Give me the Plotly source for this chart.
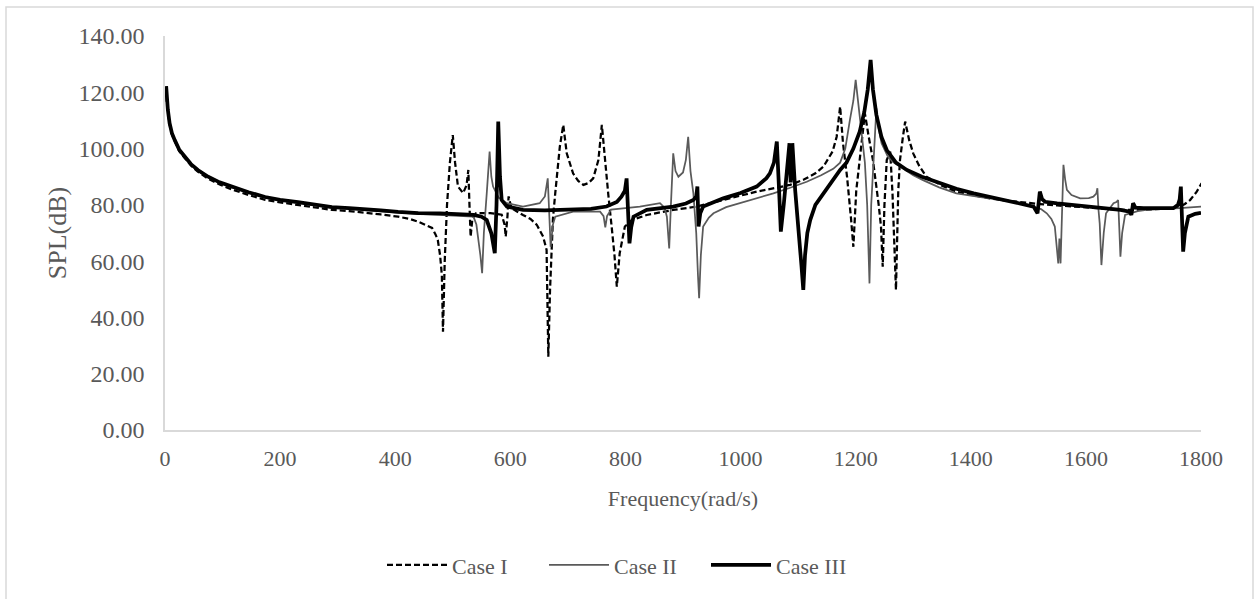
import plotly.graph_objects as go

# ---------------- data ----------------
freq_case1 = [2, 3, 5, 8, 12, 17, 25, 35, 45, 57, 75, 95, 116, 145, 174, 200, 232, 260, 290, 320,
              347, 375, 405, 425, 440, 455, 464, 470, 474, 478, 481, 483, 486, 490, 495, 500, 504, 509,
              518, 524, 527, 529, 531, 534, 540, 565, 585, 590, 592, 595, 597, 600, 602, 622, 635, 646,
              657, 663, 666, 669, 674, 678, 686, 692, 698, 709, 718, 727, 736, 744, 753, 759, 764, 770,
              776, 781, 785, 790, 799, 811, 837, 860, 883, 924, 970, 1000, 1028, 1060, 1086, 1110, 1130,
              1144, 1160, 1167, 1173, 1178, 1185, 1192, 1196, 1201, 1207, 1212, 1216, 1222, 1230, 1240,
              1244, 1247, 1250, 1254, 1260, 1264, 1267, 1270, 1274, 1277, 1282, 1286, 1293, 1300, 1310,
              1323, 1350, 1375, 1405, 1433, 1462, 1491, 1520, 1550, 1578, 1620, 1665, 1700, 1723, 1745,
              1763, 1772, 1781, 1792, 1801]
spl_case1 = [122.0, 116.5, 113.0, 108.5, 105.0, 102.5, 99.0, 96.5, 94.0, 91.8, 89.3, 87.2, 85.5, 83.5,
             81.8, 80.9, 80.0, 79.0, 78.2, 77.8, 77.3, 76.6, 75.8, 75.0, 74.0, 72.8, 71.8, 69.5, 67.5,
             62.0, 55.0, 34.9, 60.0, 80.0, 95.0, 104.8, 95.0, 86.5, 84.2, 87.0, 92.4, 80.0, 68.7, 75.0,
             77.0, 77.1, 76.5, 73.0, 68.7, 76.0, 83.0, 80.5, 78.8, 76.4, 75.0, 72.9, 68.7, 64.0, 26.0,
             50.0, 75.0, 84.1, 100.7, 108.4, 98.3, 91.2, 88.5, 87.1, 87.8, 89.4, 95.9, 108.4, 95.9, 84.1,
             72.3, 62.0, 50.9, 62.8, 72.3, 74.6, 76.4, 77.3, 78.2, 79.4, 81.7, 83.2, 84.7, 86.0, 87.1,
             89.0, 91.2, 93.6, 99.0, 104.2, 114.9, 101.9, 90.0, 75.0, 65.1, 85.0, 95.9, 105.0, 112.5,
             105.0, 95.9, 80.0, 72.3, 58.0, 80.0, 95.9, 98.9, 84.1, 70.0, 49.8, 85.0, 95.9, 104.0, 109.6,
             103.0, 98.3, 94.0, 90.0, 86.8, 84.7, 83.4, 82.3, 81.5, 80.8, 80.3, 79.8, 79.4, 78.8, 78.2,
             78.2, 78.4, 78.8, 79.4, 80.3, 81.7, 84.5, 87.7]

freq_case2 = [2, 3, 5, 8, 12, 17, 25, 35, 45, 57, 75, 95, 116, 145, 174, 200, 231, 260, 290, 320, 347,
              375, 405, 440, 478, 510, 536, 541, 544, 548, 551, 554, 559, 564, 567, 570, 580, 594, 622,
              640, 651, 660, 665, 668, 670, 674, 678, 709, 756, 762, 765, 768, 775, 800, 825, 860, 868,
              872, 876, 879, 883, 887, 892, 900, 905, 909, 913, 918, 923, 926, 928, 931, 935, 945, 953,
              975, 999, 1030, 1057, 1085, 1115, 1140, 1161, 1173, 1182, 1190, 1196, 1200, 1205, 1210,
              1216, 1220, 1224, 1227, 1231, 1236, 1240, 1245, 1255, 1265, 1277, 1300, 1317, 1345, 1375,
              1420, 1462, 1490, 1509, 1522, 1532, 1540, 1546, 1552, 1554, 1556, 1558, 1561, 1564, 1567,
              1575, 1590, 1605, 1613, 1618, 1620, 1622, 1624, 1627, 1631, 1635, 1648, 1653, 1656, 1658,
              1660, 1663, 1668, 1690, 1705, 1763, 1801]
spl_case2 = [122.0, 116.8, 113.5, 108.8, 105.3, 102.8, 99.3, 96.8, 94.3, 92.2, 89.8, 87.8, 86.2, 84.3,
             82.6, 81.6, 80.8, 79.8, 79.0, 78.5, 78.2, 77.7, 77.2, 76.8, 76.5, 76.2, 75.8, 73.0, 68.7,
             62.0, 55.7, 70.0, 84.1, 98.9, 90.0, 86.5, 82.5, 80.6, 79.4, 80.0, 80.6, 83.0, 89.4, 75.0,
             65.1, 73.0, 75.8, 77.6, 77.6, 76.0, 72.0, 76.0, 78.3, 78.8, 79.4, 80.6, 79.0, 75.8, 64.5,
             80.0, 98.3, 92.0, 90.0, 91.5, 96.0, 104.2, 92.0, 84.1, 70.0, 55.0, 46.8, 62.0, 72.3, 75.5,
             77.0, 79.2, 80.6, 82.3, 84.1, 86.0, 88.2, 90.5, 92.8, 95.0, 100.0, 110.2, 117.0, 124.4,
             115.0, 107.8, 95.0, 80.0, 52.1, 80.0, 95.9, 114.3, 107.0, 101.9, 97.5, 95.2, 93.6, 90.5,
             88.8, 86.2, 84.1, 82.7, 81.7, 80.4, 79.4, 78.5, 77.0, 75.0, 72.3, 59.2, 68.0, 59.2, 75.0,
             94.2, 89.0, 85.3, 83.5, 82.3, 82.4, 82.9, 84.0, 85.9, 78.0, 73.4, 58.6, 70.0, 77.0, 80.6,
             81.0, 81.7, 72.0, 61.6, 70.0, 76.4, 77.8, 78.2, 78.8, 79.4]

freq_case3 = [2, 3, 5, 8, 12, 17, 25, 35, 45, 57, 75, 95, 116, 145, 174, 200, 231, 260, 290, 320, 347,
              375, 405, 440, 478, 521, 536, 550, 559, 567, 573, 576, 579, 582, 585, 594, 622, 660, 709,
              740, 767, 785, 793, 799, 802, 805, 807, 810, 814, 837, 860, 883, 905, 918, 923, 925, 927,
              930, 935, 950, 970, 1000, 1028, 1045, 1051, 1058, 1063, 1067, 1070, 1075, 1080, 1085, 1087,
              1090, 1095, 1102, 1106, 1109, 1112, 1116, 1121, 1130, 1144, 1155, 1167, 1173, 1184, 1196,
              1207, 1215, 1221, 1226, 1230, 1236, 1245, 1254, 1270, 1289, 1315, 1346, 1375, 1405, 1435,
              1462, 1490, 1509, 1516, 1518, 1520, 1524, 1529, 1550, 1578, 1610, 1636, 1660, 1676, 1679,
              1682, 1686, 1700, 1730, 1752, 1760, 1763, 1765, 1767, 1769, 1772, 1778, 1790, 1800]
spl_case3 = [122.2, 117.0, 113.7, 109.0, 105.5, 103.0, 99.5, 97.0, 94.5, 92.4, 90.0, 88.0, 86.4, 84.5,
             82.8, 81.8, 81.0, 80.0, 79.2, 78.8, 78.5, 78.0, 77.5, 77.1, 77.0, 76.8, 76.4, 75.8, 74.6,
             69.9, 62.8, 80.0, 109.6, 90.0, 81.7, 79.4, 78.2, 78.0, 78.2, 78.6, 79.4, 81.0, 82.9, 85.0,
             89.4, 75.0, 66.3, 72.0, 75.8, 78.2, 78.8, 79.4, 80.5, 81.7, 83.0, 86.5, 72.3, 77.0, 79.4,
             80.8, 82.3, 84.2, 86.5, 89.5, 91.2, 95.0, 102.5, 85.0, 70.5, 80.0, 90.0, 101.9, 88.0, 101.9,
             85.0, 70.0, 58.0, 49.8, 62.0, 70.0, 74.6, 80.0, 84.1, 87.6, 91.2, 92.4, 95.0, 100.0, 106.0,
             113.0, 121.0, 131.5, 121.0, 112.0, 104.0, 99.5, 95.0, 92.4, 90.0, 87.7, 85.7, 84.1, 82.8,
             81.7, 80.5, 79.4, 77.0, 80.0, 84.7, 82.0, 81.1, 80.5, 80.0, 79.3, 78.8, 78.2, 77.6, 76.4,
             80.6, 79.0, 78.8, 78.8, 78.8, 80.0, 82.0, 86.5, 75.0, 63.4, 70.0, 75.8, 76.8, 77.2]

x_ticks = [0, 200, 400, 600, 800, 1000, 1200, 1400, 1600, 1800]
y_ticks = [0, 20, 40, 60, 80, 100, 120, 140]
series_names = ["Case I", "Case II", "Case III"]

# ---------------- figure ----------------
FONT = "Liberation Serif, Times New Roman, serif"
GREY_TXT = "#595959"
AXIS_COL = "#d9d9d9"

fig = go.Figure()
fig.add_trace(go.Scatter(x=freq_case1, y=spl_case1, mode="lines", name=series_names[0],
                         line=dict(color="#000000", width=2.25, dash="6px,3px")))
fig.add_trace(go.Scatter(x=freq_case2, y=spl_case2, mode="lines", name=series_names[1],
                         line=dict(color="#5a5a5a", width=1.75)))
fig.add_trace(go.Scatter(x=freq_case3, y=spl_case3, mode="lines", name=series_names[2],
                         line=dict(color="#000000", width=3.75)))

fig.update_layout(
    width=1256, height=599,
    margin=dict(l=165, r=55, t=36, b=169),
    paper_bgcolor="white", plot_bgcolor="white",
    font=dict(family=FONT, color=GREY_TXT, size=22),
    showlegend=True,
    legend=dict(orientation="h", x=(382 - 165) / 1036, xanchor="left", y=-0.343, yanchor="middle",
                font=dict(size=22, color=GREY_TXT, family=FONT), bgcolor="rgba(0,0,0,0)",
                itemwidth=60, entrywidth=87),
    xaxis=dict(range=[0, 1800], tickvals=x_ticks, ticktext=[str(v) for v in x_ticks],
               showgrid=False, zeroline=False, showline=True, linecolor=AXIS_COL, linewidth=1.5,
               ticks="", ticklabelstandoff=8, tickfont=dict(size=22, color=GREY_TXT, family=FONT),
               title=dict(text="Frequency(rad/s)", font=dict(size=22, color=GREY_TXT, family=FONT),
                          standoff=20)),
    yaxis=dict(range=[0, 140], tickvals=y_ticks, ticktext=[f"{v:.2f}" for v in y_ticks],
               showgrid=False, zeroline=False, showline=True, linecolor=AXIS_COL, linewidth=1.5,
               ticks="", ticklabelstandoff=14, tickfont=dict(size=24, color=GREY_TXT, family=FONT),
               title=dict(text="SPL(dB)", font=dict(size=26, color=GREY_TXT, family=FONT),
                          standoff=4)),
)

# chart-area border (Excel style)
fig.add_shape(type="rect", xref="paper", yref="paper",
              x0=(6 - 165) / 1036, x1=(1253 - 165) / 1036,
              y0=(430 - 640) / 394, y1=(430 - 7) / 394,
              line=dict(color=AXIS_COL, width=1.5), fillcolor="rgba(0,0,0,0)", layer="below")

fig.write_html("out.html")
